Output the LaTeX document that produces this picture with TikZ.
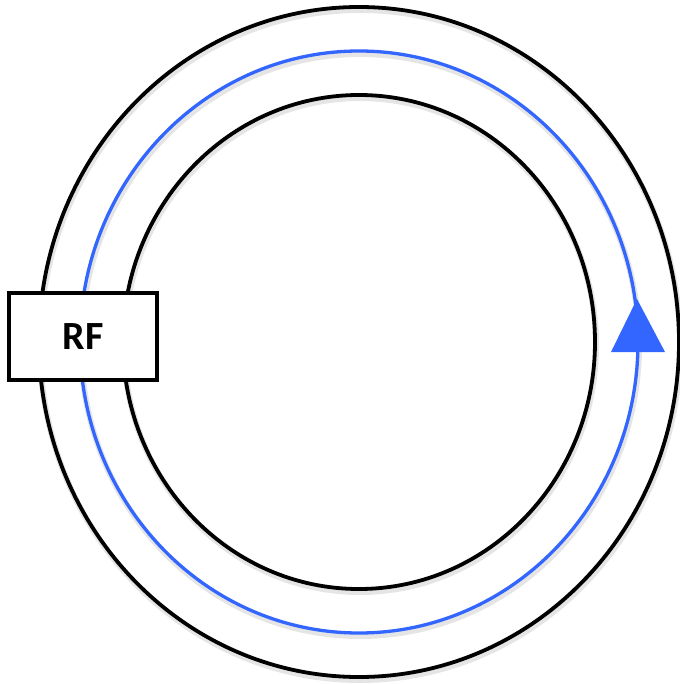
\documentclass[tikz,border=0pt]{standalone}
\usepackage{fontspec}
\setmainfont{Carlito}
\definecolor{rfblue}{RGB}{51,102,255}
\begin{document}
\begin{tikzpicture}[x=1pt,y=1pt,
  ring/.style={draw=black,line width=3.8pt},
  beam/.style={draw=rfblue,line width=3.3pt},
  shadowline/.style={draw=black!10,line width=6pt},
  rfbox/.style={draw=black,line width=3.3pt,fill=white,minimum width=148pt,minimum height=87pt,inner sep=0pt,font=\bfseries\fontsize{40}{42}\selectfont},
  tiphead/.style={fill=rfblue}]
\useasboundingbox (0,0) rectangle (679,-684);
\coordinate (c) at (359,-342);
\coordinate (cs) at (360,-345);
% soft shadows
\draw[shadowline] (cs) ellipse [x radius=320, y radius=335];
\draw[shadowline] (cs) ellipse [x radius=279, y radius=291];
\draw[shadowline] (cs) ellipse [x radius=236, y radius=247];
% rings
\draw[ring] (c) ellipse [x radius=320, y radius=335];
\draw[beam] (c) ellipse [x radius=279, y radius=291];
\draw[ring] (c) ellipse [x radius=236, y radius=247];
% arrow head on the beam
\coordinate (tipL) at (611,-352);
\coordinate (tipR) at (665,-352);
\coordinate (tipT) at (637,-299);
\fill[tiphead] (tipL) -- (tipR) -- (tipT) -- cycle;
% RF box
\node[rfbox] (rf) at (83,-336.5) {RF};
\end{tikzpicture}
\end{document}
